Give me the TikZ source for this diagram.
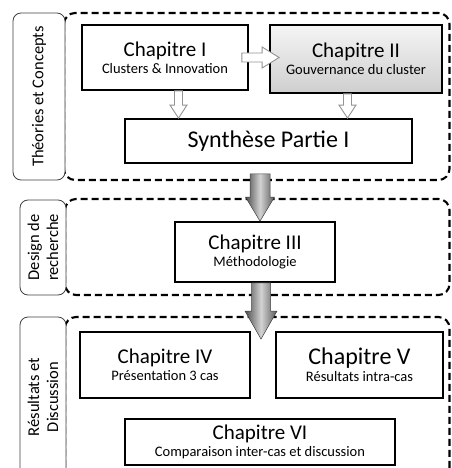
\documentclass[tikz,border=0pt]{standalone}
\usepackage{fontspec}
\setmainfont{Carlito}
\usetikzlibrary{calc}

\tikzset{
    cadre/.style={draw=black, dash pattern=on 7pt off 4pt, line width=2.1pt, rounded corners=11pt},
    etiquette/.style={draw=black!75, fill=white, line width=0.8pt, rounded corners=8pt, align=center,
        font=\fontsize{16.5}{19}\selectfont},
    chap/.style={draw=black, line width=1.8pt, fill=white, align=center, inner sep=0pt,
        font=\fontsize{14.5}{17}\selectfont},
    petite/.style={draw=gray!85, fill=white, line width=0.9pt},
    grosse/.style={draw=gray!50!black, line width=0.5pt, left color=gray!60!black,
        right color=gray!70!black, middle color=gray!35},
}

\newcommand{\titre}[2][21]{{\fontsize{#1}{17}\selectfont #2}}
% style, depart, arrivee, demi-tige, demi-tete, longueur tete
\newcommand{\flechebas}[6]{%
    \path[#1] let \p1=(#2), \p2=(#3) in
        (\x1-#4,\y1) -- (\x1-#4,\y2+#6) -- (\x1-#5,\y2+#6) -- (\x1,\y2)
        -- (\x1+#5,\y2+#6) -- (\x1+#4,\y2+#6) -- (\x1+#4,\y1) -- cycle;}
\newcommand{\flechedroite}[6]{%
    \path[#1] let \p1=(#2), \p2=(#3) in
        (\x1,\y1+#4) -- (\x2-#6,\y1+#4) -- (\x2-#6,\y1+#5) -- (\x2,\y1)
        -- (\x2-#6,\y1-#5) -- (\x2-#6,\y1-#4) -- (\x1,\y1-#4) -- cycle;}

\begin{document}
\begin{tikzpicture}[x=1pt, y=-1pt]
    \useasboundingbox (0,0) rectangle (451,468);
    \clip (0,0) rectangle (451,468);

    %%%%%%%%%% Cadres %%%%%%%%%%
    \draw[cadre] (64,13) rectangle (449.5,180);
    \draw[cadre] (65,199) rectangle (449.5,295);
    \draw[cadre] (65,317) rectangle (449.5,480);

    \node[etiquette, rotate=90, minimum width=167pt, minimum height=52pt] (t1) at (39,96.5) {Théories et Concepts};
    \node[etiquette, rotate=90, minimum width=95pt, minimum height=46pt] (t2) at (43,247.5) {Design de\\recherche};
    \node[etiquette, rotate=90, minimum width=160pt, minimum height=46pt] (t3) at (43,397) {Résultats et\\Discussion};

    %%%%%%%%%% Noeuds %%%%%%%%%%
    \node[chap, minimum width=166pt, minimum height=65pt] (c1) at (165,57.5)
        {\titre{Chapitre I}\\Clusters \& Innovation};
    \node[chap, minimum width=172pt, minimum height=68pt, top color=gray!8, bottom color=gray!38] (c2) at (356,59)
        {\titre{Chapitre II}\\Gouvernance du cluster};
    \node[chap, minimum width=287pt, minimum height=44pt] (syn) at (268.5,141)
        {\titre[24]{Synthèse Partie I}};
    \node[chap, minimum width=160pt, minimum height=60pt] (c3) at (255,252)
        {\titre{Chapitre III}\\Méthodologie};
    \node[chap, minimum width=170pt, minimum height=66pt] (c4) at (165,365)
        {\titre{Chapitre IV}\\Présentation 3 cas};
    \node[chap, minimum width=167pt, minimum height=66pt] (c5) at (359.5,365)
        {\titre[24]{Chapitre V}\\Résultats intra-cas};
    \node[chap, minimum width=270pt, minimum height=46pt] (c6) at (260,442)
        {\titre{Chapitre VI}\\Comparaison inter-cas et discussion};

    %%%%%%%%% Fleches %%%%%%%%%
    \flechedroite{petite}{$(c1.east)+(-7,0)$}{$(c2.west)+(10,0)$}{4.5pt}{10.5pt}{17pt}
    \flechebas{petite}{$(c1.south)+(13.5,0)$}{syn.north}{4pt}{8.5pt}{13pt}
    \flechebas{petite}{$(c2.south)+(-8.5,0)$}{syn.north}{4pt}{8.5pt}{13pt}
    \flechebas{grosse}{$(syn.south -| c3.north)+(5,10)$}{c3.north}{10pt}{14.5pt}{24pt}
    \flechebas{grosse}{$(c3.south)+(6,0)$}{$(c4.north)+(0,8)$}{9.5pt}{16pt}{28pt}
\end{tikzpicture}
\end{document}
